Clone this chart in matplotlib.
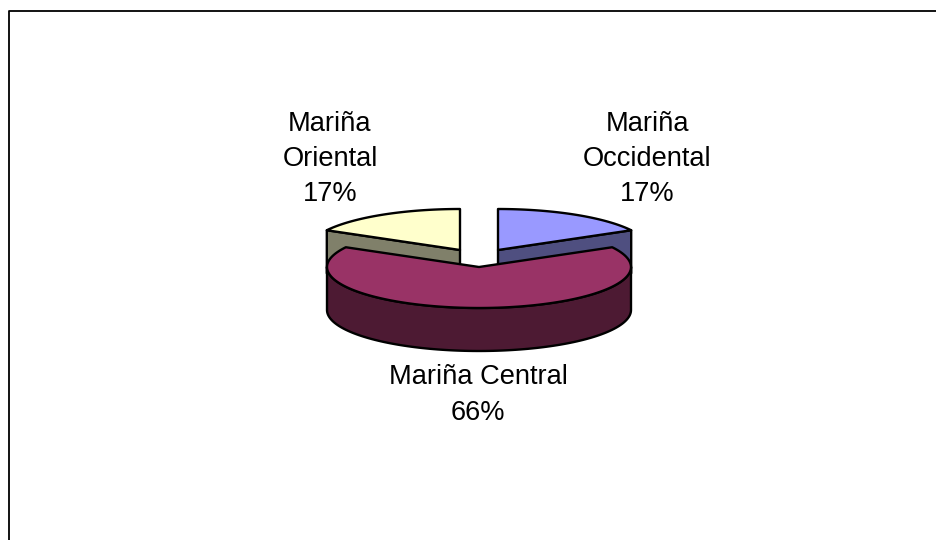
import numpy as np
import matplotlib
matplotlib.use('Agg')
import matplotlib.pyplot as plt
from matplotlib.patches import Polygon

plt.rcParams['font.family'] = ['Liberation Sans', 'DejaVu Sans']

labels = ['Mariña\nOccidental\n17%', 'Mariña Central\n66%', 'Mariña\nOriental\n17%']
shares = [17, 66, 17]
top_cols = ['#9999ff', '#993366', '#ffffcc']
side_cols = ['#4f4f80', '#4d1a33', '#80806a']

# slice centres in pixels, the small ones are pulled out of the pie
centres = [(498, 250), (479, 267), (460, 250)]
label_pos = [(647, 159), (478, 395), (330, 159)]
rx, ry = 152, 41
depth = 43
lw = 1.7


def ell(centre, a):
    # a is clockwise from 12 o'clock, in degrees
    r = np.radians(a)
    return np.column_stack([centre[0] + rx * np.sin(r), centre[1] - ry * np.cos(r)])


fig = plt.figure(figsize=(9.36, 5.4), dpi=100)
ax = fig.add_axes([0, 0, 1, 1])
ax.set_xlim(0, 936)
ax.set_ylim(540, 0)
ax.axis('off')

# chart frame, cut off at the right and the bottom of the picture
ax.plot([8.5, 8.5, 936], [540, 11, 11], color='black', lw=1.3)

angles = np.cumsum([0] + shares) * 3.6
# the small slices go behind the big one
for i in [0, 2, 1]:
    start, end = angles[i], angles[i + 1]
    c = centres[i]
    arc = ell(c, np.linspace(start, end, 120))
    if i == 1:
        # outer wall, only the front half of the ellipse shows
        front = ell(c, np.linspace(90, 270, 120))
        wall = np.vstack([front, (front + [0, depth])[::-1]])
    else:
        # cut wall, on the edge facing the viewer
        edge = end if i == 0 else start
        rim = ell(c, np.array([edge]))[0]
        wall = np.array([c, rim, rim + [0, depth], np.array(c) + [0, depth]])
    ax.add_patch(Polygon(wall, closed=True, fc=side_cols[i], ec='black', lw=lw, joinstyle='round'))
    ax.add_patch(Polygon(np.vstack([[c], arc]), closed=True, fc=top_cols[i], ec='black', lw=lw, joinstyle='round'))

for i in range(3):
    ax.text(label_pos[i][0], label_pos[i][1], labels[i], ha='center', va='center', ma='center',
            fontsize=19.6, color='black', linespacing=1.46)

fig.savefig('out.png', dpi=100)
